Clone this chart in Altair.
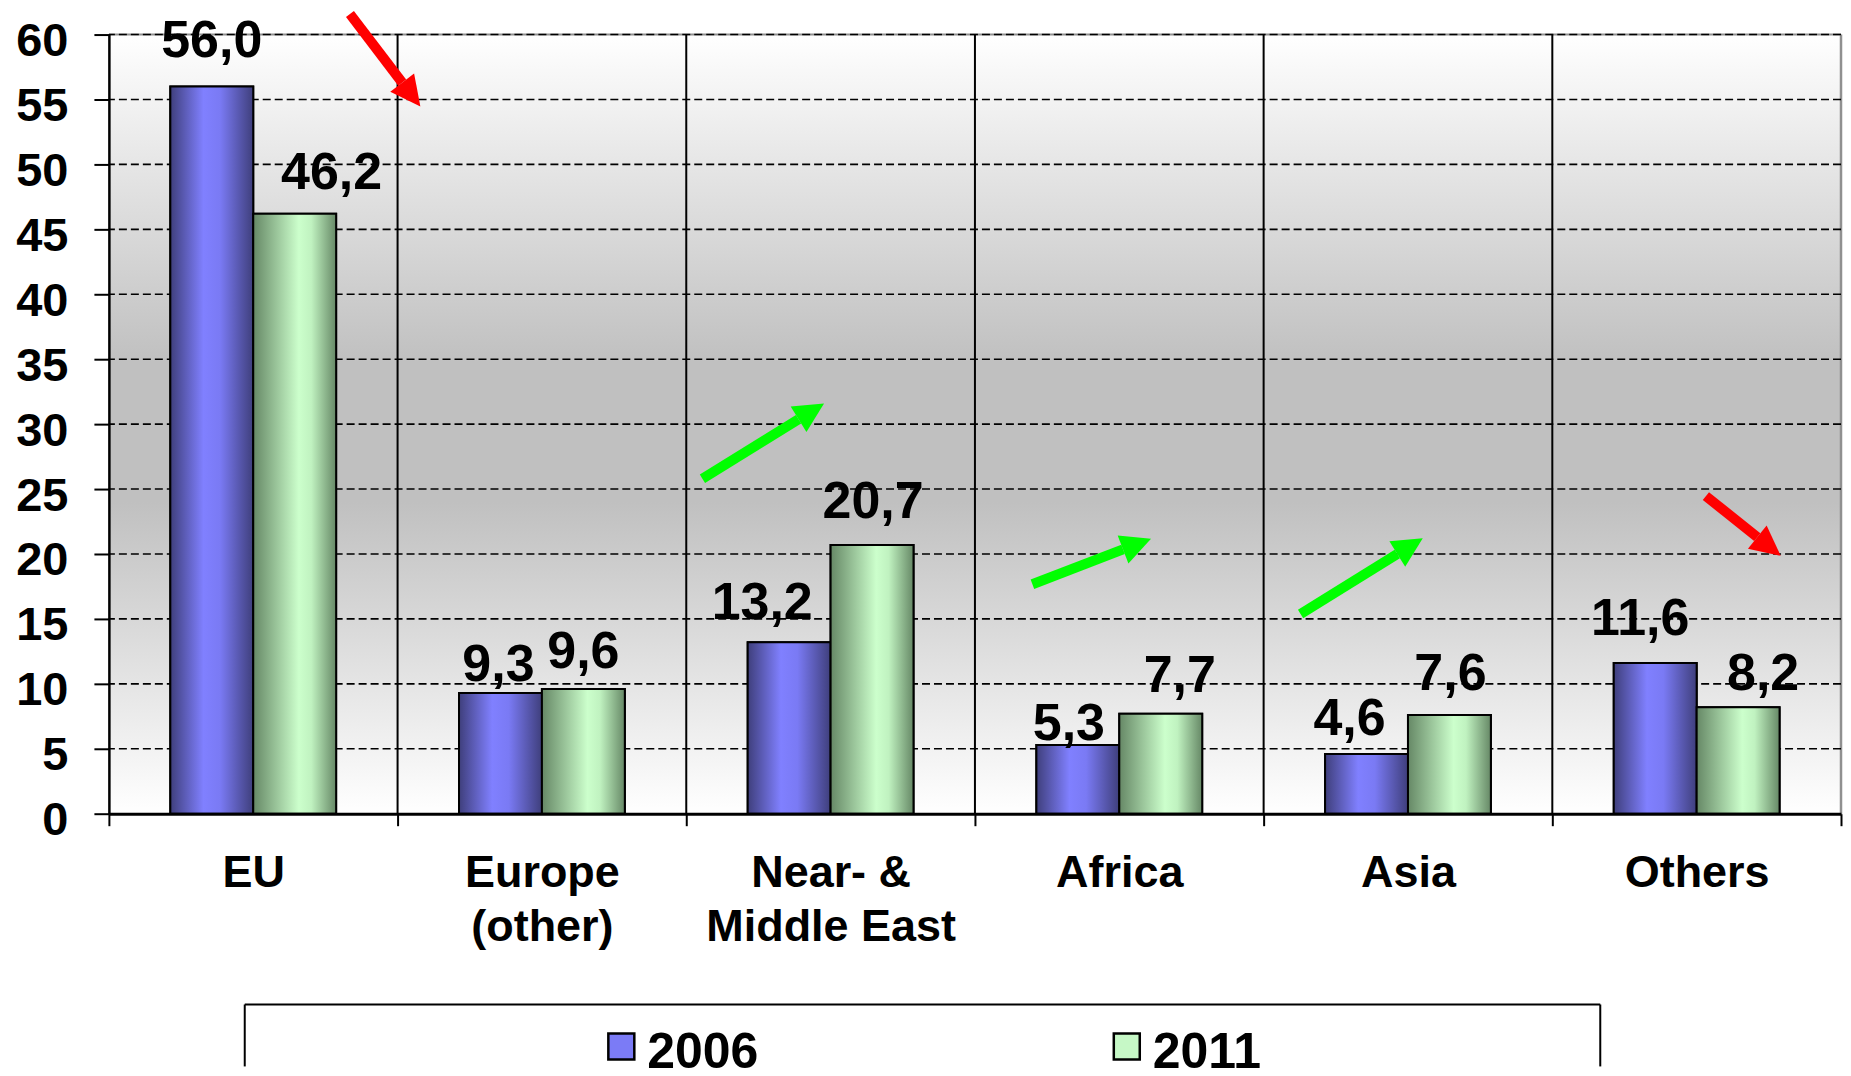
import math
import altair as alt
import pandas as pd

FONT = "Liberation Sans"

categories = ["EU", "Europe\n(other)", "Near- &\nMiddle East", "Africa", "Asia", "Others"]
years = ["2006", "2011"]
values_2006 = [56.0, 9.3, 13.2, 5.3, 4.6, 11.6]
values_2011 = [46.2, 9.6, 20.7, 7.7, 7.6, 8.2]
y_ticks = list(range(0, 61, 5))
category_edges = [1, 2, 3, 4, 5]

# label nudges in px (horizontal shift, gap between bar top and text baseline)
label_dx_2006 = [0, -2, -27, -9, -17, -15]
label_dx_2011 = [37, 0, 1, 19, 1, 25]
label_gap_2006 = [30, 12, 23, 5, 19, 28]
label_gap_2011 = [25, 21, 27, 22, 25, 17]

# trend arrows: x in category units (0..6), y in value units
arrow_x1 = [0.835, 2.056, 3.199, 4.128, 5.532]
arrow_y1 = [61.58, 25.79, 17.67, 15.38, 24.46]
arrow_x2 = [1.016, 2.389, 3.513, 4.463, 5.710]
arrow_y2 = [56.3, 30.38, 20.35, 20.0, 21.3]
arrow_colors = ["#ff0000", "#00ff00", "#00ff00", "#00ff00", "#ff0000"]

W, H = 1734, 780
YMAX = 60


def fmt(v):
    return f"{v:.1f}".replace(".", ",")


rows = []
for i, c in enumerate(categories):
    rows.append(dict(cat=c, year="2006", value=values_2006[i], label=fmt(values_2006[i]),
                     dx=label_dx_2006[i], gap=label_gap_2006[i]))
    rows.append(dict(cat=c, year="2011", value=values_2011[i], label=fmt(values_2011[i]),
                     dx=label_dx_2011[i], gap=label_gap_2011[i]))
bars = pd.DataFrame(rows)

angles = []
for x1, y1, x2, y2 in zip(arrow_x1, arrow_y1, arrow_x2, arrow_y2):
    sx = (x2 - x1) * W / 6
    sy = -(y2 - y1) * H / YMAX
    angles.append(math.degrees(math.atan2(sx, -sy)) % 360)
arrows = pd.DataFrame(dict(x1=arrow_x1, y1=arrow_y1, x2=arrow_x2, y2=arrow_y2,
                           col=arrow_colors, ang=angles))

xq = alt.Scale(domain=[0, 6], nice=False, zero=False)
ys = alt.Scale(domain=[0, YMAX], nice=False)
xs = alt.Scale(domain=categories, paddingInner=0, paddingOuter=0)
xo = alt.Scale(domain=years, paddingInner=0, paddingOuter=0.741)

bg_grad = alt.LinearGradient(
    gradient="linear", x1=0, x2=0, y1=0, y2=1,
    stops=[alt.GradientStop(offset=0, color="#ffffff"),
           alt.GradientStop(offset=0.42, color="#c0c0c0"),
           alt.GradientStop(offset=0.60, color="#c0c0c0"),
           alt.GradientStop(offset=1, color="#ffffff")])
blue_grad = alt.LinearGradient(
    gradient="linear", x1=0, x2=1, y1=0, y2=0,
    stops=[alt.GradientStop(offset=0, color="#3f3f7c"),
           alt.GradientStop(offset=0.4, color="#8080ff"),
           alt.GradientStop(offset=0.6, color="#7a7af4"),
           alt.GradientStop(offset=1, color="#3f3f7c")])
green_grad = alt.LinearGradient(
    gradient="linear", x1=0, x2=1, y1=0, y2=0,
    stops=[alt.GradientStop(offset=0, color="#668866"),
           alt.GradientStop(offset=0.55, color="#ccffcc"),
           alt.GradientStop(offset=0.7, color="#c0f2c0"),
           alt.GradientStop(offset=1, color="#668866")])

# ---------- background, grid, borders (quantitative x in category units)
bg = alt.Chart(pd.DataFrame(dict(x=[0], x2=[6], y=[0], y2=[YMAX]))).mark_rect(
    fill=bg_grad, strokeWidth=0).encode(
    x=alt.X("x:Q", scale=xq, axis=None), x2="x2:Q",
    y=alt.Y("y:Q", scale=ys), y2="y2:Q")

top_border = alt.Chart(pd.DataFrame(dict(y=[YMAX]))).mark_rule(
    color="#909090", strokeWidth=2).encode(y=alt.Y("y:Q", scale=ys))
right_border = alt.Chart(pd.DataFrame(dict(x=[6]))).mark_rule(
    color="#909090", strokeWidth=2.5).encode(x=alt.X("x:Q", scale=xq, axis=None))

hgrid = alt.Chart(pd.DataFrame(dict(y=y_ticks[1:]))).mark_rule(
    color="black", strokeWidth=1.6, strokeDash=[8, 4]).encode(
    y=alt.Y("y:Q", scale=ys))
vgrid = alt.Chart(pd.DataFrame(dict(x=category_edges))).mark_rule(
    color="black", strokeWidth=2).encode(x=alt.X("x:Q", scale=xq, axis=None))

back = alt.layer(bg, top_border, right_border, hgrid, vgrid)

# ---------- bars and labels
xaxis = alt.Axis(tickBand="extent", grid=False, domainColor="black", domainWidth=3,
                 tickColor="black", tickWidth=2, tickSize=12,
                 labelFont=FONT, labelFontSize=45, labelFontWeight="bold",
                 labelColor="black", labelPadding=25, labelLineHeight=54,
                 labelExpr="split(datum.label, '\\n')", labelAngle=0, labelLimit=600,
                 title=None, zindex=1)
yaxis = alt.Axis(values=y_ticks, grid=False, domainColor="black", domainWidth=2.5,
                 tickColor="black", tickWidth=2, tickSize=15,
                 labelFont=FONT, labelFontSize=47, labelFontWeight="bold",
                 labelColor="black", labelPadding=26, labelOffset=7,
                 title=None, zindex=1)

base = alt.Chart(bars)
enc_xo = alt.XOffset("year:N", scale=xo)

legend_bars = base.mark_bar(stroke="black", strokeWidth=2).encode(
    x=alt.X("cat:N", scale=xs, axis=xaxis), xOffset=enc_xo,
    y=alt.Y("value:Q", scale=ys, axis=yaxis),
    color=alt.Color("year:N",
                    scale=alt.Scale(domain=years, range=["#7b7bf6", "#c6f8c6"]),
                    legend=alt.Legend(orient="none", legendX=488, legendY=995,
                                      direction="horizontal", title=None,
                                      symbolType="M-1,-1.54H1V0.46H-1Z", symbolSize=676,
                                      symbolStrokeColor="black", symbolStrokeWidth=2.5,
                                      labelFont=FONT, labelFontSize=50,
                                      labelFontWeight="bold", labelColor="black",
                                      labelOffset=1, columnPadding=343, padding=0)))

bars_2006 = base.mark_bar(fill=blue_grad, stroke="black", strokeWidth=2).transform_filter(
    alt.datum.year == "2006").encode(
    x=alt.X("cat:N", scale=xs), xOffset=enc_xo,
    y=alt.Y("value:Q", scale=ys))
bars_2011 = base.mark_bar(fill=green_grad, stroke="black", strokeWidth=2).transform_filter(
    alt.datum.year == "2011").encode(
    x=alt.X("cat:N", scale=xs), xOffset=enc_xo,
    y=alt.Y("value:Q", scale=ys))

labels = base.mark_text(font=FONT, fontSize=52, fontWeight="bold", color="black",
                        align="center", baseline="alphabetic",
                        dx=alt.expr("datum.dx"), dy=alt.expr("-datum.gap")).encode(
    x=alt.X("cat:N", scale=xs), xOffset=enc_xo,
    y=alt.Y("value:Q", scale=ys), text="label:N")

mid = alt.layer(legend_bars, bars_2006, bars_2011, labels)

# ---------- arrows and legend frame
arrow_body = alt.Chart(arrows).mark_rule(strokeWidth=10, strokeCap="butt").encode(
    x=alt.X("x1:Q", scale=xq, axis=None), x2="x2:Q",
    y=alt.Y("y1:Q", scale=ys), y2="y2:Q",
    color=alt.Color("col:N", scale=None))
arrow_head = alt.Chart(arrows).mark_point(
    shape="M0,-1L0.5,0L-0.5,0Z", filled=True, size=3600, opacity=1, strokeWidth=0).encode(
    x=alt.X("x2:Q", scale=xq, axis=None),
    y=alt.Y("y2:Q", scale=ys),
    angle=alt.Angle("ang:Q", scale=None),
    color=alt.Color("col:N", scale=None))

frame_df = pd.DataFrame(dict(k=[0]))
frame_top = alt.Chart(frame_df).mark_rule(color="black", strokeWidth=2).encode(
    x=alt.value(136), x2=alt.value(1493), y=alt.value(971))
frame_left = alt.Chart(frame_df).mark_rule(color="black", strokeWidth=2).encode(
    x=alt.value(136), y=alt.value(971), y2=alt.value(1033))
frame_right = alt.Chart(frame_df).mark_rule(color="black", strokeWidth=2).encode(
    x=alt.value(1493), y=alt.value(971), y2=alt.value(1033))

front = alt.layer(arrow_body, arrow_head, frame_top, frame_left, frame_right)

chart = alt.layer(back, mid, front).resolve_scale(x="independent").properties(
    width=W, height=H,
    padding={"left": 7, "top": 0, "right": 0, "bottom": 0},
    background="white",
).configure_view(stroke=None)

chart.save("out.html", embed_options={"renderer": "svg", "actions": False})
